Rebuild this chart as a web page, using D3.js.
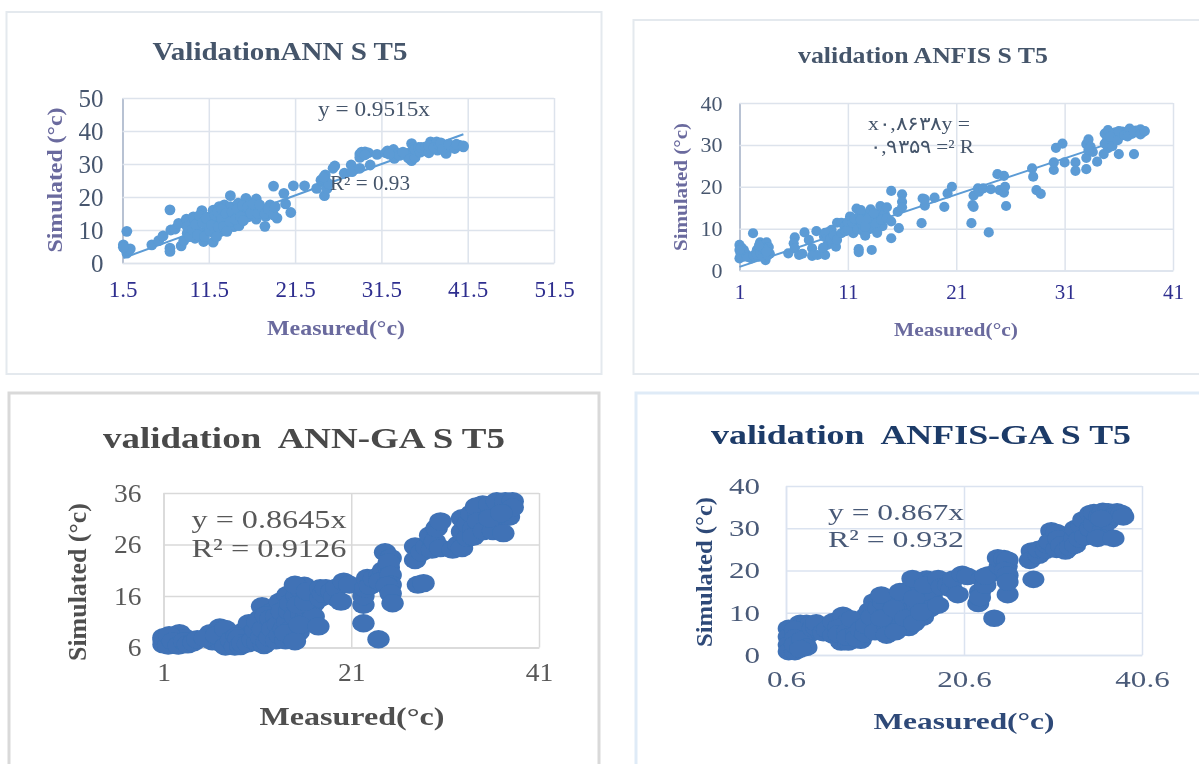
<!DOCTYPE html>
<html>
<head>
<meta charset="utf-8">
<script src="https://cdn.jsdelivr.net/npm/d3@7"></script>
<style>
  body { margin: 0; background: #fff; }
  svg { display: block; }
  text { font-family: "Liberation Serif", serif; }
</style>
</head>
<body>
<div id="chart"></div>
<script>
// measured, simulated pairs
var annPoints = [
  [1.6,5.5],[1.7,4.6],[1.9,4.2],[2.0,9.6],[2.0,3.0],[2.2,3.8],[2.4,4.3],[1.6,4.8],
  [4.9,5.5],[5.7,6.8],[6.2,8.2],[7,16.1],[7,4.5],[7,3.5],[7.1,10],[7.6,10.3],[8,12],[8.3,5.2],[8.6,6.8],
  [8.9,13.3],[9,9],[9.5,11.9],[9.7,14],[9.9,7.5],[10.1,10],[10.4,13],[10.7,15.9],[10.6,9],[10.9,6.5],
  [11.3,11],[11.5,14],[12,6.3],[12,16],[12.1,9],[12.4,12.5],[12.7,17.1],[12.9,9.6],[13.1,15],[13.3,17.6],
  [13.6,12],[13.8,14],[14,20.4],[14,17.1],[14.4,11],[14.5,15],[15,11.3],[14.9,18.1],[15.8,19.6],[15.8,16.1],
  [16.1,14],[16.3,18.1],[17,19.4],[16.8,16.6],[17,13.3],[17.7,16.1],[18,11.1],[18.1,14.1],[18.6,17.6],
  [18.8,15.9],[19.4,13.6],[19,23.3],[20.2,21.1],[20.4,17.9],[21,15.3],[21.3,23.4],[22.6,23.4],
  [9,11],[9.3,8],[9.6,10.2],[10,11.6],[10.2,8.5],[10.4,14.4],[10.8,12.2],[11,8],[11.2,13.6],[11.6,9.8],
  [11.8,11.5],[12.2,14.5],[12.4,8],[12.5,15.5],[12.6,11],[13,13.4],[13,16.3],[13.2,11],[13.5,15],[13.6,9.6],
  [14,12.6],[14.2,15.5],[14.6,13.2],[14.8,16.4],[15.2,14],[15.4,17.4],[15.5,12.8],[16,17],[16.4,15.2],
  [16.6,17.8],[17.2,15],[17.4,17.6],[18,15],[18.4,16.4],[19,14.6],[19.2,17],
  [24,22.6],[24.5,25.1],[24.9,20.4],[25,26.7],[25,25.1],[25.2,22.6],[26.1,29.4],[25.9,28.7],[27.2,27.2],
  [25.4,24],[24.8,26],[28,29.7],[28.1,27.7],[29,28.7],[29,33],[29,32],[29.6,33.7],[30,33.4],[30.2,29.7],[31,32.9],[32,33.4],
  [29.2,33.6],[29.6,32.8],[32.2,34],[32.9,34.4],[33,31.7],[33.4,33.2],[34.5,33.2],[34.6,31.9],[35,36.2],[35,31],[35,33.2],
  [32.4,33],[33.6,32.6],[34,33.6],[34.8,31.5],[35.2,35],[35.4,32],[35.4,34.4],[35.8,35],[36,33.6],[36.4,34],
  [36.1,35],[36.6,35.2],[37,33.4],[37.2,36.7],[37.2,34.7],[37.9,36.7],[38,34.2],[38.6,35.7],[39,33.2],
  [37,35.6],[37.6,35],[38.2,35.8],[38.4,36.4],[38.6,34.4],[39.6,35.2],[40.6,35.6],
  [39.3,36],[40,34.7],[40.2,36],[41,35.2],[41,35.5]
];
var anfisPoints = [
  [1,6.1],[1.1,4.1],[1,2.9],[1.4,4.9],[1.4,3.3],[2.25,8.9],[2.1,2.9],[2.8,3.3],[2.6,4.9],[2.9,6.7],[3.1,4.1],
  [3.3,6.1],[3.5,6.7],[3.7,5.6],[3.4,2.5],[3.8,4],[1.1,3.4],[1.2,5.4],[1.6,3.9],[1.8,3.2],[2.3,3.6],[2.6,3.8],
  [2.9,4.2],[3,5.6],[3.2,3.2],[3.4,5],[3.6,3.6],[1,4.9],[2.8,6],[3.5,4.5],
  [5.5,4.1],[6.1,7.9],[6,6.5],[6.1,5.3],[6.5,3.7],[6.8,4],
  [7,9.1],[7.4,7.3],[7.7,5.3],[7.7,3.5],[8.1,9.4],[8.2,3.7],[8.8,8.1],[8.9,3.7],[9.1,6.1],[9.3,8.9],[9.5,9.7],
  [8.7,5.4],[8.9,9],[9.2,9.2],[9.4,7.6],[9.6,6.6],[9.7,8.4],
  [9.9,5.7],[10,7.3],[10,11.4],[10.4,8.9],[10.4,11.4],[10.7,10.5],[11.2,12.9],[11.5,8.9],[11.7,10.9],
  [10.8,9.4],[11,9.8],[11,11.6],[11.4,11.4],[11.6,12.4],[11.9,9.8],[12.1,13.2],[12.3,11],[12.4,9.4],[12.7,13.4],
  [12.8,11.4],[13,9.9],[13.2,13.4],[13.3,10.6],[13.5,12.6],[13.9,11],[14,13.4],[14.2,10.6],[14.4,13.6],
  [11.8,14.8],[12,5.1],[12,4.4],[12.2,14.4],[12.2,12.1],[12.6,8.3],[12.6,10.5],[13.1,14.6],[12.9,12.5],
  [13.2,4.9],[13.4,13.7],[13.6,11.3],[13.7,9],[14,15.4],[14.1,12.1],[14.6,15.1],[14.6,12.5],[15,11.7],
  [15,7.7],[15,19],[15.6,14],[15.7,10.1],[16,18.2],[16,16.4],[16,15.1],[17.8,11.3],[17.9,17.2],[18.1,15.5],
  [18.1,17],[19,17.4],[19.9,15.2],[20.2,18.4],[20.6,20],[22.4,11.3],[22.5,15.6],[22.6,15.2],[22.6,17.9],
  [23,19.6],[23.1,18.8],[23.5,19.6],[24,9.1],[24.2,19.4],[24.8,23],[25,19.2],[25.4,22.6],[25.4,18.6],
  [25.5,20],[25.6,15.4],[28,24.4],[28.1,22.4],[28.4,19.2],[28.8,18.3],[30,24],[30,25.8],[30.2,29.3],
  [30.8,30.3],[31,25.8],[32,25.8],[32,23.8],[33,24.2],[33,26.9],[33,30.2],[33.2,31.3],[33.4,29.5],[33.6,28.3],
  [33.2,28.8],[34.9,32.2],[35.1,30.8],[35,29.2],[34.9,31],[35.5,32.8],[35.7,33],[36.1,32.4],[36.3,33.2],[36.6,33],
  [37.2,32.6],[37.6,33.4],[38.2,33],
  [34,26],[34.6,27.8],[34.7,30.3],[34.7,32.7],[35,33.5],[35.2,31.9],[35.4,29.7],[35.9,31.1],[36,27.8],
  [36,33.3],[36.5,32.3],[37,33.9],[36.8,32],[37.4,27.8],[37.4,33.1],[38,33.7],[38,32.5],[38.4,33.3]
];
var annGaPoints = [
  [1,7.5],[1,6.6],[1.5,7.8],[1.8,6.6],[2.4,6.5],[2.7,8.8],[2.9,7.7],[3.1,6.6],[3.4,7.8],
  [1,8],[1.5,6.4],[1.6,8.4],[2,7.2],[2.6,6.4],[3.2,7.2],[3.6,6.6],[4.2,7],[4.6,7.6],
  [6,8.8],[7,9.9],[6.2,7.2],[7.2,6.8],[8,6.5],[8.9,6.8],[7.6,8.1],[9.5,9.1],[10.1,10.7],[10.1,7.8],[10.5,8.8],
  [5.4,7.8],[6.6,8.4],[7.6,9.6],[7.6,6.2],[8.2,7.4],[8.6,6.2],[8.8,8.2],[9,7.8],[9.2,6.3],[9.4,6.8],[10,6.8],[10.5,7.4],[11,7],
  [11.5,14],[11.7,6.5],[11.3,11.7],[12.2,10.4],[12.6,13],[12.8,8.5],[13.4,14.9],[13.8,11.7],[14.2,16.2],
  [10.8,9.4],[11,11],[11.4,8],[11.6,9.6],[11.9,12.2],[12,7],[12.3,8],[12.4,11.6],[12.6,9.6],[13,12],[13,7.4],
  [13.2,10.4],[13.4,8.4],[13.6,13],[13.8,9.6],[14,7.4],[14.2,11],[14.4,13],[14.5,14.6],[14.6,9.6],[14.8,7.8],
  [15,12],[15.2,16],[15.4,9],[15.7,12.5],[15.8,17],[16,18],[16.2,11.8],[16.4,13],[16.6,16],[17,14.5],[17.2,16.5],[17,12],
  [14,8.8],[15,7.2],[15,18.2],[15.3,14.3],[15.5,10.4],[16.1,14.9],[16.3,16.9],[17.5,10.1],[17.7,15.6],
  [17.7,17.5],[18,16.5],[18.3,17.5],[18.9,16.9],[19.2,15.8],[19.4,17.6],[19.9,14.9],[20.2,18.8],[20.8,18.2],
  [22.3,10.7],[22.3,14.3],[22.3,16],[22.5,17.5],[22.7,19.5],[23.9,7.6],[23,18],[23.4,19.4],[24,20],[24.4,21],[24.4,19],
  [24,18.8],[24.6,24.5],[25.2,23.4],[25,21.5],[25,22.5],[25.2,20.1],[25.2,18.2],[24.8,18],[25.2,16.5],[25.4,14.6],
  [27.8,25.6],[27.8,23],[28.1,18.2],[28.7,18.5],[28.5,24.5],[29,25.5],[29.4,27.8],[29.6,25],
  [29.9,26.6],[30.1,29.2],[30.5,30.5],[30.5,25.3],[31.8,25],[32.4,26],[32.8,25.3],[32.8,28.5],[32.8,31.1],[33.4,27.3],
  [33.4,30],[33.8,32],[34,29],[34,27.5],[34.6,32],[35,31.5],[35,33.8],[35.4,30],[36,32.5],[36.2,30],[36.6,33],[36.8,31],
  [37.6,33],[37.8,31.4],
  [34.3,33.4],[34.5,30.5],[35.1,28.6],[35.7,33.7],[36.1,28.6],[37.2,28.2],[36.5,34.4],[35.7,31.1],[37.4,34.4],
  [38.2,34.4],[38.2,33.2],[37,32.1]
];
var anfisGaPoints = [
  [0.9,6.3],[0.9,4.3],[0.9,2.4],[0.9,0.8],[1.6,0.8],[1.8,3.1],[2.2,7.5],[2.2,5.1],[2.9,7.5],[3.3,7.1],[3.3,5.1],[2.7,2.8],
  [1.6,6],[1.6,4],[1.6,2.4],[2.4,3.6],[2.9,1.8],[2.2,1.4],[3.6,6.3],[4,6.5],[4,7.6],[4.8,5.3],[5.2,6],
  [5.9,7.9],[7,9.4],[5.9,4.7],[6.8,3.1],[7.6,3.1],[9,3.5],[8.2,7.1],[7.6,7.9],[9.7,9.4],[10.5,12.6],[10.5,7.1],
  [6.5,6.5],[6.5,5],[7.5,5.5],[7.5,4.2],[8.5,5],[8.5,4],[8,8.5],[9,6],[9.5,5],[9.6,7],[10,10.5],[10.2,9],[10.6,5.5],
  [11,11],[11.5,12.5],[12,9],[12,7],[12.4,13.5],[12.4,6],[13,9.5],[13,7.5],[13.2,12.5],[13.6,7],[14,11],[14,13.5],
  [14.4,6.5],[14.4,15.5],[14.8,10],[15,16],[15.4,11.5],[15.4,8.5],[15.6,15],[16,12.5],[16,9],[16.4,14],[16.4,18],
  [17,16],[17,13.5],[17,17.4],[16.8,11],
  [11.3,14.2],[11.9,4.7],[11.3,8.7],[12.9,5.5],[12.7,11],[13.4,15],[14,8.7],[15,7.5],[14.8,18.1],[15,13.4],
  [15.8,10.2],[16.2,16.5],[17.7,11.8],[17.7,18.1],[18.1,16.1],[18.8,16.5],[19.2,15.6],[19.4,18],[19.9,14.3],[20.4,19.1],[21,18.6],
  [22.2,12.2],[22.4,15],[22.4,13.6],[22.6,18.1],[23,16.5],[23.4,19],[24,8.7],[23,18.7],[24.6,21],[24.4,23],[25.1,22.8],[25.4,21],
  [25.5,22.5],[25.2,20],[25.5,18.9],[25.5,14.3],[25.5,17.3],[28.2,24.6],[28,22.4],
  [28.4,17.9],[29,23.6],[29,25],[29.8,24.8],[30,26],[30.4,29.4],[30.2,26.8],[31,25],[31,29],[31.2,27.5],[31.5,26],
  [32,24.6],[32.5,25.5],[33,27.5],[33.1,29.9],[33.1,26],[33.6,27.5],[33.8,30.5],[34.2,28],[34,32],[34.8,33.5],[34.8,29.9],
  [35.2,31],[35.2,33.7],[35.8,32.7],[36.2,29.5],[36.2,34],[36.6,28],[36.8,31.6],
  [35.6,27.6],[36.8,33.9],[37.4,27.6],[37.6,33.2],[37.8,33.9],[37.4,32.8],[38.3,33.5],[38.5,32.7],[36,32.3]
];

var annXTicks = [1.5, 11.5, 21.5, 31.5, 41.5, 51.5];
var annYTicks = [0, 10, 20, 30, 40, 50];
var anfisXTicks = [1, 11, 21, 31, 41];
var anfisYTicks = [0, 10, 20, 30, 40];
var annGaXTicks = [1, 21, 41];
var annGaYTicks = [6, 16, 26, 36];
var anfisGaXTicks = [0.6, 20.6, 40.6];
var anfisGaYTicks = [0, 10, 20, 30, 40];

var svg = d3.select('#chart').append('svg')
  .attr('width', 1199)
  .attr('height', 764);

var defs = svg.append('defs');
defs.append('filter').attr('id', 'soft').append('feGaussianBlur').attr('stdDeviation', 0.35);
defs.append('filter').attr('id', 'softer').append('feGaussianBlur').attr('stdDeviation', 0.6);

// squash or widen a text to the width it has in the picture
function fit(sel, width) {
  sel.attr('textLength', width).attr('lengthAdjust', 'spacingAndGlyphs');
}
function widen(sel, k) {
  sel.each(function() {
    d3.select(this).attr('textLength', this.getComputedTextLength() * k)
      .attr('lengthAdjust', 'spacingAndGlyphs');
  });
}

function drawPanel(p) {
  var g = svg.append('g').attr('filter', 'url(#' + p.blur + ')');

  g.append('rect')
    .attr('x', p.frame[0]).attr('y', p.frame[1])
    .attr('width', p.frame[2]).attr('height', p.frame[3])
    .attr('fill', '#fff')
    .attr('stroke', p.frameColor)
    .attr('stroke-width', p.frameWidth);

  var x = d3.scaleLinear().domain(p.xDomain).range([p.left, p.right]);
  var y = d3.scaleLinear().domain(p.yDomain).range([p.bottom, p.top]);

  var xAxis = g.append('g')
    .attr('transform', 'translate(0,' + p.bottom + ')')
    .call(d3.axisBottom(x).tickValues(p.xTicks).tickFormat(d => d)
      .tickSize(-(p.bottom - p.top)).tickSizeOuter(0).tickPadding(p.xPad));
  var yAxis = g.append('g')
    .attr('transform', 'translate(' + p.left + ',0)')
    .call(d3.axisLeft(y).tickValues(p.yTicks).tickFormat(d => d)
      .tickSize(-(p.right - p.left)).tickSizeOuter(0).tickPadding(p.yPad));

  xAxis.selectAll('.tick line').attr('stroke', p.grid).attr('stroke-width', 1.5);
  yAxis.selectAll('.tick line').attr('stroke', p.grid).attr('stroke-width', 1.5);
  xAxis.select('.domain').attr('stroke', p.grid).attr('stroke-width', 1.5);
  yAxis.select('.domain').attr('stroke', p.leftLine).attr('stroke-width', 1.5);

  var xt = xAxis.selectAll('text')
    .style('font-family', '"Liberation Serif", serif')
    .attr('font-size', p.xTickSize).attr('fill', p.xTickColor);
  var yt = yAxis.selectAll('text')
    .style('font-family', '"Liberation Serif", serif')
    .attr('font-size', p.yTickSize).attr('fill', p.yTickColor);
  widen(xt, p.stretch);
  widen(yt, p.stretch);

  if (p.slope) {
    g.append('line')
      .attr('x1', x(p.trendFrom)).attr('y1', y(p.trendFrom * p.slope))
      .attr('x2', x(p.trendTo)).attr('y2', y(p.trendTo * p.slope))
      .attr('stroke', p.color).attr('stroke-width', 2);
  }

  g.append('g').selectAll('ellipse')
    .data(p.points)
    .join('ellipse')
    .attr('cx', d => x(d[0]))
    .attr('cy', d => y(d[1]))
    .attr('rx', p.rx)
    .attr('ry', p.ry)
    .attr('fill', p.color);

  g.append('text').text(p.title)
    .attr('x', p.titlePos[0]).attr('y', p.titlePos[1])
    .attr('text-anchor', 'middle')
    .style('white-space', 'pre')
    .attr('font-weight', 'bold').attr('font-size', p.titleSize)
    .attr('fill', p.titleColor)
    .call(fit, p.titleWidth);

  g.append('text').text('Simulated (°c)')
    .attr('transform', 'translate(' + p.simPos[0] + ',' + p.simPos[1] + ') rotate(-90)')
    .attr('text-anchor', 'middle')
    .attr('font-weight', 'bold').attr('font-size', p.labelSize)
    .attr('fill', p.labelColor)
    .call(fit, p.simWidth);

  g.append('text').text('Measured(°c)')
    .attr('x', p.measPos[0]).attr('y', p.measPos[1])
    .attr('text-anchor', 'middle')
    .attr('font-weight', 'bold').attr('font-size', p.labelSize)
    .attr('fill', p.labelColor)
    .call(fit, p.measWidth);

  p.notes.forEach(function(n) {
    g.append('text').text(n.text)
      .attr('x', n.x).attr('y', n.y)
      .attr('text-anchor', 'middle')
      .attr('font-size', p.noteSize)
      .attr('fill', p.noteColor)
      .style('direction', 'ltr')
      .style('unicode-bidi', 'bidi-override')
      .call(fit, n.width);
  });
}

drawPanel({
  blur: 'soft', frame: [6.5, 12, 595, 362], frameColor: '#e4e9ee', frameWidth: 2,
  left: 122.5, right: 554, top: 98, bottom: 263,
  xDomain: [1.5, 51.5], yDomain: [0, 50], xTicks: annXTicks, yTicks: annYTicks,
  xPad: 18, yPad: 19, stretch: 1, xTickSize: 23, yTickSize: 25,
  grid: '#dde3ec', leftLine: '#a9b4c8', xTickColor: '#2f2f8f', yTickColor: '#46566e',
  points: annPoints, rx: 5.4, ry: 5.4, color: '#5b9bd5',
  slope: 0.9515, trendFrom: 1.6, trendTo: 41,
  title: 'ValidationANN S T5', titlePos: [280, 60], titleSize: 25, titleColor: '#44546a', titleWidth: 255,
  simPos: [62, 180], simWidth: 145, measPos: [336, 335], measWidth: 138,
  labelSize: 21, labelColor: '#6a6a9e',
  noteSize: 20, noteColor: '#44546a',
  notes: [
    {text: 'y = 0.9515x', x: 374, y: 116, width: 112},
    {text: 'R² = 0.93', x: 370, y: 190, width: 80}
  ]
});

drawPanel({
  blur: 'soft', frame: [633.5, 20, 600, 354], frameColor: '#e4e9ee', frameWidth: 2,
  left: 739.5, right: 1173, top: 103, bottom: 270.5,
  xDomain: [1, 41], yDomain: [0, 40], xTicks: anfisXTicks, yTicks: anfisYTicks,
  xPad: 14, yPad: 17, stretch: 1, xTickSize: 21, yTickSize: 22,
  grid: '#dde3ec', leftLine: '#a9b4c8', xTickColor: '#2f2f8f', yTickColor: '#46566e',
  points: anfisPoints, rx: 5.1, ry: 5.1, color: '#5b9bd5',
  slope: 0.8638, trendFrom: 1, trendTo: 38.4,
  title: 'validation ANFIS S T5', titlePos: [923, 63], titleSize: 23, titleColor: '#44546a', titleWidth: 250,
  simPos: [687, 187], simWidth: 128, measPos: [956, 336], measWidth: 124,
  labelSize: 19, labelColor: '#6a6a9e',
  noteSize: 19, noteColor: '#44546a',
  notes: [
    {text: 'x۰,۸۶۳۸y =', x: 919, y: 130, width: 102},
    {text: '۰,۹۳۵۹ =² R', x: 922, y: 153, width: 104}
  ]
});

drawPanel({
  blur: 'softer', frame: [9, 393, 590, 400], frameColor: '#d9d9d9', frameWidth: 3,
  left: 163.5, right: 539, top: 493, bottom: 647.5,
  xDomain: [1, 41], yDomain: [6, 36], xTicks: annGaXTicks, yTicks: annGaYTicks,
  xPad: 16, yPad: 22, stretch: 1.1, xTickSize: 25, yTickSize: 25,
  grid: '#d9d9d9', leftLine: '#d9d9d9', xTickColor: '#595959', yTickColor: '#595959',
  points: annGaPoints, rx: 11.2, ry: 9.2, color: '#3f72b6',
  slope: 0,
  title: 'validation  ANN-GA S T5', titlePos: [304, 448], titleSize: 29, titleColor: '#4a4a4a', titleWidth: 402,
  simPos: [86, 582], simWidth: 158, measPos: [352, 725], measWidth: 185,
  labelSize: 25, labelColor: '#4f4f4f',
  noteSize: 26, noteColor: '#595959',
  notes: [
    {text: 'y = 0.8645x', x: 269, y: 528, width: 155},
    {text: 'R² = 0.9126', x: 269, y: 557, width: 155}
  ]
});

drawPanel({
  blur: 'softer', frame: [636, 393, 600, 400], frameColor: '#dfebf7', frameWidth: 3,
  left: 786, right: 1142, top: 486, bottom: 655,
  xDomain: [0.6, 40.6], yDomain: [0, 40], xTicks: anfisGaXTicks, yTicks: anfisGaYTicks,
  xPad: 16, yPad: 26, stretch: 1.35, xTickSize: 23, yTickSize: 23,
  grid: '#dbe3f0', leftLine: '#dbe3f0', xTickColor: '#4a5a78', yTickColor: '#4a5a78',
  points: anfisGaPoints, rx: 11, ry: 8.8, color: '#3f72b6',
  slope: 0,
  title: 'validation  ANFIS-GA S T5', titlePos: [921, 444], titleSize: 27, titleColor: '#1f3b68', titleWidth: 420,
  simPos: [712, 572], simWidth: 150, measPos: [964, 729], measWidth: 181,
  labelSize: 24, labelColor: '#2f4a78',
  noteSize: 24, noteColor: '#4a5a78',
  notes: [
    {text: 'y = 0.867x', x: 896, y: 520, width: 136},
    {text: 'R² = 0.932', x: 896, y: 547, width: 136}
  ]
});
</script>
</body>
</html>
